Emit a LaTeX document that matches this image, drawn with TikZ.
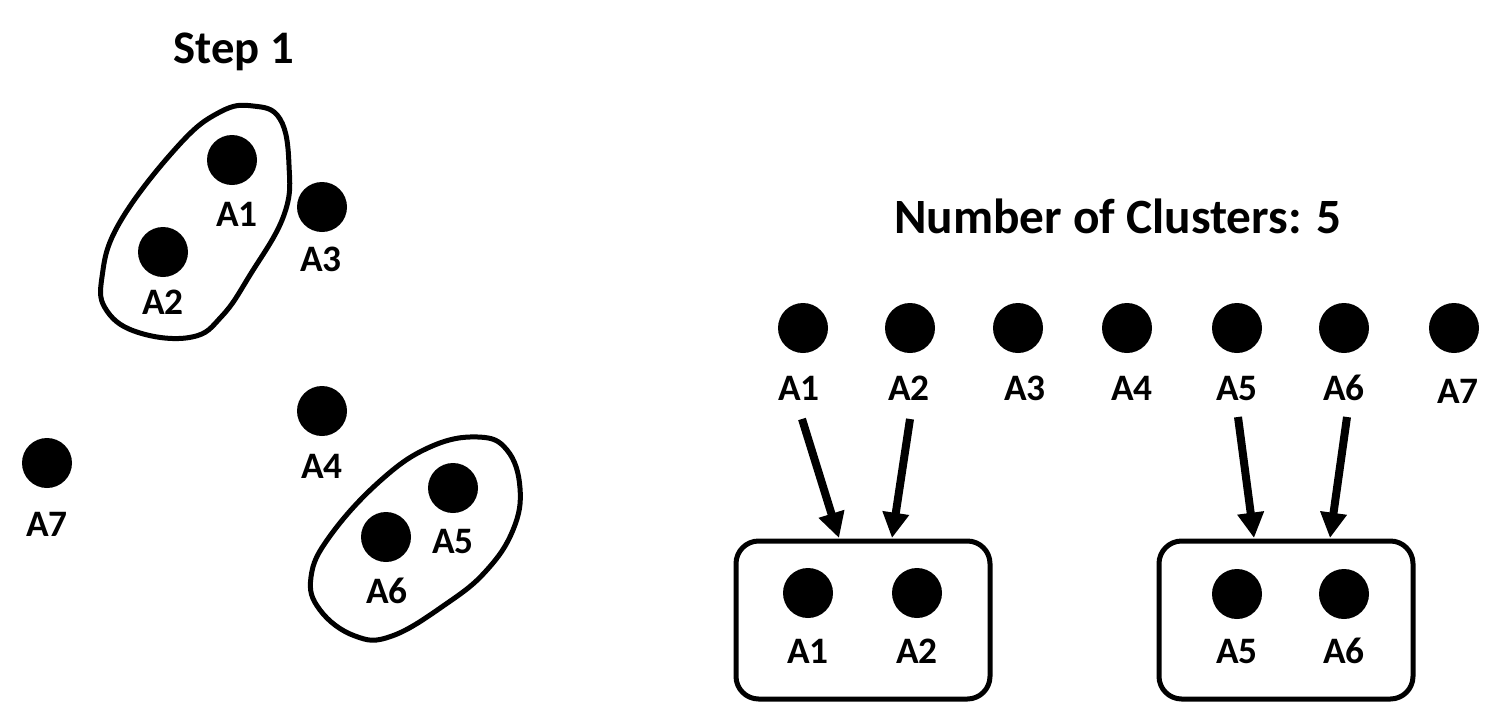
\documentclass[tikz,border=0pt]{standalone}
\usepackage{fontspec}
\setmainfont{Carlito}
\usetikzlibrary{arrows.meta}
\begin{document}
\begin{tikzpicture}[x=0.75pt,y=-0.75pt,
  dot/.style={circle,fill=black,minimum size=37.5pt,inner sep=0pt},
  lbl/.style={font=\fontsize{28}{32}\selectfont\bfseries,anchor=base,inner sep=0pt},
  ttl/.style={font=\fontsize{35}{40}\selectfont\bfseries,anchor=base,inner sep=0pt},
  outline/.style={line width=3.75pt},
  clusterbox/.style={draw,line width=3.75pt,rounded corners=17pt,minimum width=190.5pt,minimum height=118.5pt,inner sep=0pt},
  arr/.style={line width=6pt,-{Triangle[width=19pt,length=19pt]}}]
\useasboundingbox (0,0) rectangle (1507,707);

% ---------- left panel ----------
\node[ttl] (step) at (234,63) {Step 1};

\node[dot] (L1) at (232,160) {};
\node[lbl] (L1t) at (237,226) {A1};
\node[dot] (L2) at (163,252) {};
\node[lbl] (L2t) at (163,314) {A2};
\node[dot] (L3) at (322,207) {};
\node[lbl] (L3t) at (321,271) {A3};
\node[dot] (L4) at (322,411) {};
\node[lbl] (L4t) at (322,478) {A4};
\node[dot] (L5) at (453,488) {};
\node[lbl] (L5t) at (453,553) {A5};
\node[dot] (L6) at (386,537) {};
\node[lbl] (L6t) at (387,603) {A6};
\node[dot] (L7) at (47,463) {};
\node[lbl] (L7t) at (47,536) {A7};

\draw[outline] plot[smooth cycle,tension=0.7] coordinates {
  (253,106) (280,119) (289,165) (284,215) (250,275) (222,316)
  (192,337) (140,333) (107,311) (102,277) (120,222) (178,146) (220,112)};

\draw[outline] plot[smooth cycle,tension=0.7] coordinates {
  (478,437) (507,450) (520,488) (513,530) (486,571) (446,604)
  (392,636) (355,636) (320,610) (311,577) (330,536) (380,481) (430,447)};

% ---------- right panel ----------
\node[ttl,font=\fontsize{37}{42}\selectfont\bfseries] (num) at (1118,233) {Number of Clusters: 5};

\node[dot] (R1) at (803,328) {};
\node[dot] (R2) at (910,328) {};
\node[dot] (R3) at (1018,328) {};
\node[dot] (R4) at (1127,328) {};
\node[dot] (R5) at (1237,328) {};
\node[dot] (R6) at (1344,328) {};
\node[dot] (R7) at (1454,328) {};
\node[lbl] (R1t) at (799,400) {A1};
\node[lbl] (R2t) at (909,400) {A2};
\node[lbl] (R3t) at (1025,400) {A3};
\node[lbl] (R4t) at (1132,400) {A4};
\node[lbl] (R5t) at (1237,400) {A5};
\node[lbl] (R6t) at (1344,400) {A6};
\node[lbl] (R7t) at (1458,403) {A7};

\node[clusterbox] (B1) at (863,620) {};
\node[clusterbox] (B2) at (1286,620) {};

\node[dot] (B1a) at (808,593) {};
\node[lbl] (B1at) at (808,663) {A1};
\node[dot] (B1b) at (917,593) {};
\node[lbl] (B1bt) at (917,663) {A2};
\node[dot] (B2a) at (1237,594) {};
\node[lbl] (B2at) at (1237,663) {A5};
\node[dot] (B2b) at (1344,594) {};
\node[lbl] (B2bt) at (1344,663) {A6};

\coordinate (s1) at (802,419);
\coordinate (e1) at (839,538);
\coordinate (s2) at (910,419);
\coordinate (e2) at (892,538);
\coordinate (s5) at (1238,417);
\coordinate (e5) at (1254,538);
\coordinate (s6) at (1347,417);
\coordinate (e6) at (1330,538);
\draw[arr] (s1) -- (e1);
\draw[arr] (s2) -- (e2);
\draw[arr] (s5) -- (e5);
\draw[arr] (s6) -- (e6);
\end{tikzpicture}
\end{document}
